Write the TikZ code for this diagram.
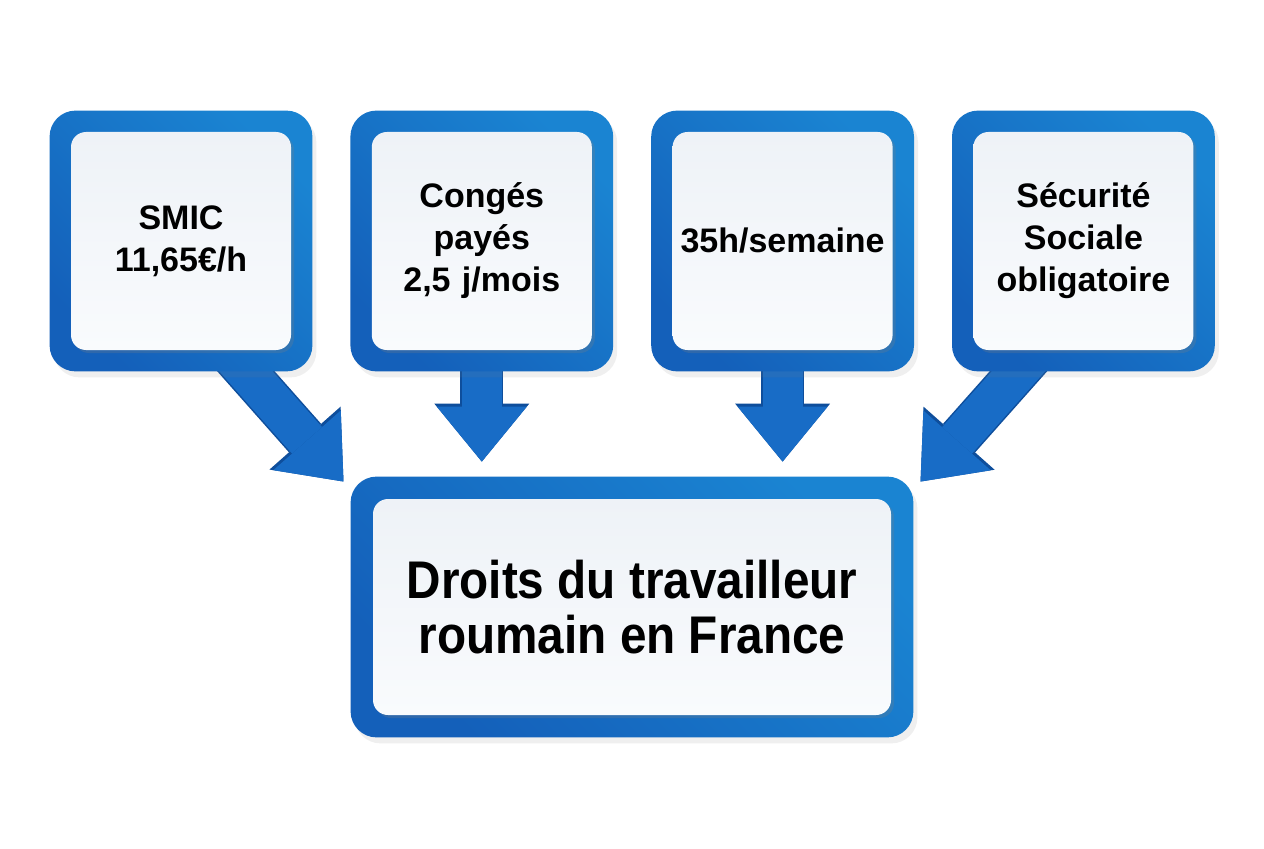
\documentclass[tikz,border=0pt]{standalone}
\usepackage{fontspec}
\setmainfont{Liberation Sans}
\newfontfamily\condfont[FakeStretch=0.9]{Liberation Sans}
\usetikzlibrary{positioning, arrows.meta, shadows, backgrounds}
\definecolor{boxdark}{RGB}{20,96,186}
\definecolor{boxlight}{RGB}{26,132,210}
\definecolor{arrowblue}{RGB}{24,108,198}
\definecolor{arrowedge}{RGB}{14,78,156}
\definecolor{innertop}{RGB}{238,242,247}
\definecolor{innerbot}{RGB}{249,251,253}
\tikzstyle{item} = [rectangle, rounded corners=7.5pt, minimum width=110pt, minimum height=109pt, text width=108pt, inner sep=1pt, align=center, font=\fontsize{17pt}{21pt}\selectfont\bfseries, top color=innertop, bottom color=innerbot, drop shadow={shadow xshift=1.5pt, shadow yshift=-1.5pt, opacity=0.25}]
\tikzstyle{main} = [rectangle, rounded corners=7.5pt, minimum width=259pt, minimum height=108pt, inner sep=1pt, align=center, font=\condfont\fontsize{26.5pt}{27.5pt}\selectfont\bfseries, top color=innertop, bottom color=innerbot, drop shadow={shadow xshift=1.5pt, shadow yshift=-1.5pt, opacity=0.25}]
\tikzstyle{frame} = [rounded corners=13pt, top color=boxlight, bottom color=boxdark, shading angle=-45, drop shadow={shadow xshift=2pt, shadow yshift=-3pt, opacity=0.12}]
\tikzstyle{bigarrow} = [draw=arrowblue, line width=20pt, -{Triangle[length=27.5pt, width=45pt, line width=0pt]}, preaction={draw=arrowedge, line width=21.5pt, -{Triangle[length=29pt, width=47.5pt, line width=0pt]}}]

\begin{document}
\begin{tikzpicture}[x=0.5pt, y=0.5pt, node distance=40pt]
	\useasboundingbox (0,0) rectangle (1264,848);
	\node (smic) [item] at (181,607) {SMIC\\11,65€/h};
	\node (conges) [item, right=of smic] {Congés\\payés\\2,5 j/mois};
	\node (heures) [item, right=of conges] {35h/semaine};
	\node (secu) [item, right=of heures] {Sécurité\\Sociale\\obligatoire};
	\node (droits) [main] at (632,241) {Droits du travailleur\\roumain en France};
\begin{scope}[on background layer]
\fill [white] (0,0) rectangle (1264,848);
%\draw [bigarrow] (smic) -- (droits);
\draw [bigarrow, shorten >=11.4pt] (smic.-67) -- ([xshift=-7pt]droits.north west);
\draw [bigarrow, shorten >=18.5pt] (conges.south) -- (conges.south |- droits.north);
\draw [bigarrow, shorten >=18.5pt] (heures.south) -- (heures.south |- droits.north);
\draw [bigarrow, shorten >=11.4pt] (secu.-113) -- ([xshift=7pt]droits.north east);
\foreach \b in {smic,conges,heures,secu}
	\path [frame] ([shift={(-21,21)}]\b.north west) rectangle ([shift={(21,-21)}]\b.south east);
\path [frame] ([shift={(-22,22)}]droits.north west) rectangle ([shift={(22,-22)}]droits.south east);
\end{scope}
\end{tikzpicture}
\end{document}
